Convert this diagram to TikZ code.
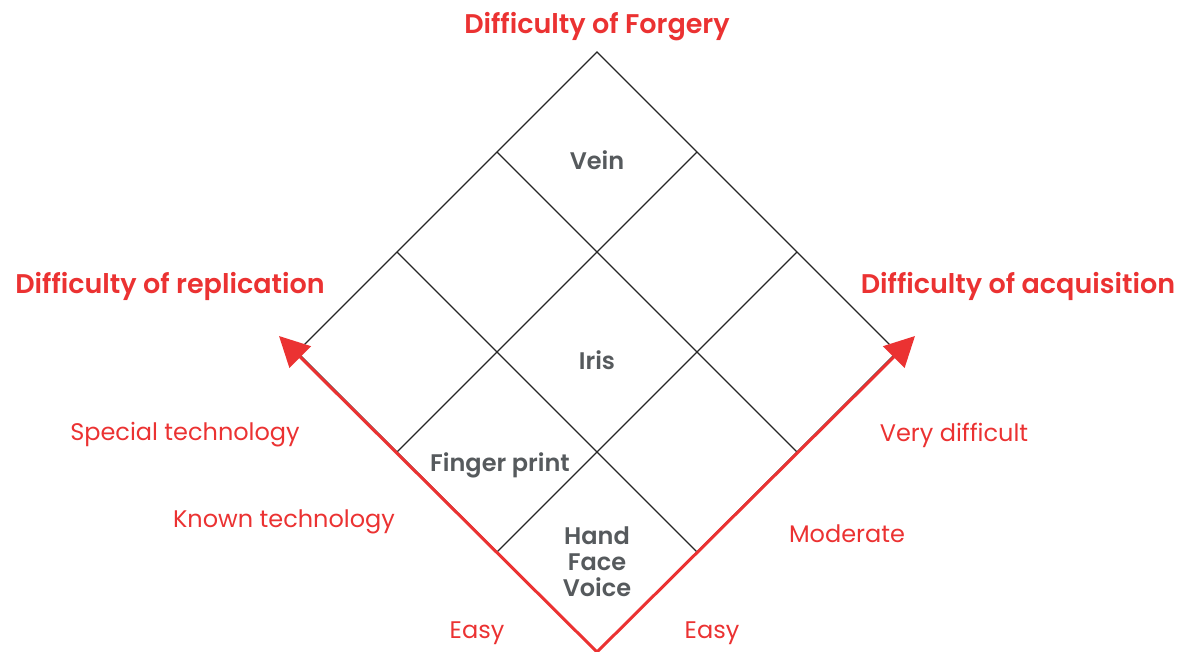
\documentclass[tikz,border=0pt]{standalone}
\usepackage{fontspec}
\setmainfont{Poppins}
\newfontfamily\boldface{Poppins}[UprightFont=* SemiBold]
\usetikzlibrary{arrows.meta}
\definecolor{accent}{HTML}{EB3232}
\definecolor{cellgray}{HTML}{565A5D}
\tikzset{
  grid/.style={draw=black!85, line width=1.2pt},
  axis/.style={draw=accent, line width=3pt, -{Triangle[length=30pt,width=30pt]}},
  title/.style={text=accent, font=\boldface\fontsize{27}{30}\selectfont, inner sep=0pt, yshift=-3pt},
  level/.style={text=accent, font=\fontsize{24}{28}\selectfont, inner sep=0pt, yshift=-3pt},
  cell/.style={text=cellgray, font=\boldface\fontsize{24}{26}\selectfont, inner sep=0pt, align=center, yshift=-2pt},
}
\begin{document}
\begin{tikzpicture}[x=1pt,y=-1pt]
\useasboundingbox (0,0) rectangle (1194,652);
% lattice points of the rotated 3x3 grid
\coordinate (T) at (597,52);
\coordinate (L) at (297,352);
\coordinate (R) at (897,352);
\coordinate (B) at (597,652);
\coordinate (a1) at (497,152); \coordinate (a2) at (697,152);
\coordinate (b1) at (397,252); \coordinate (b3) at (797,252);
\coordinate (c1) at (497,552); \coordinate (c2) at (697,552);
\coordinate (d1) at (397,452); \coordinate (d3) at (797,452);
% outline and inner grid lines
\draw[grid] (T) -- (L) -- (B) -- (R) -- cycle;
\draw[grid] (a1) -- (d3);
\draw[grid] (a2) -- (d1);
\draw[grid] (b1) -- (c2);
\draw[grid] (b3) -- (c1);
% axes
\coordinate (Ltip) at (279,336);
\coordinate (Rtip) at (915,336);
\draw[axis] (B) -- (Ltip);
\draw[axis] (B) -- (Rtip);
% axis titles
\node[title] (tf) at (597,24) {Difficulty of Forgery};
\node[title] (tr) at (170,283) {Difficulty of replication};
\node[title] (ta) at (1018,283) {Difficulty of acquisition};
% levels
\node[level] (l1) at (185,432) {Special technology};
\node[level] (l2) at (284,519) {Known technology};
\node[level] (l3) at (477,630) {Easy};
\node[level] (r1) at (954,432) {Very difficult};
\node[level] (r2) at (847,531) {Moderate};
\node[level] (r3) at (712,630) {Easy};
% cells
\node[cell] (vein) at (597,158) {Vein};
\node[cell] (iris) at (597,358) {Iris};
\node[cell] (fp) at (500,463) {Finger print};
\node[cell] (hfv) at (597,560) {Hand\\Face\\Voice};
\end{tikzpicture}
\end{document}
